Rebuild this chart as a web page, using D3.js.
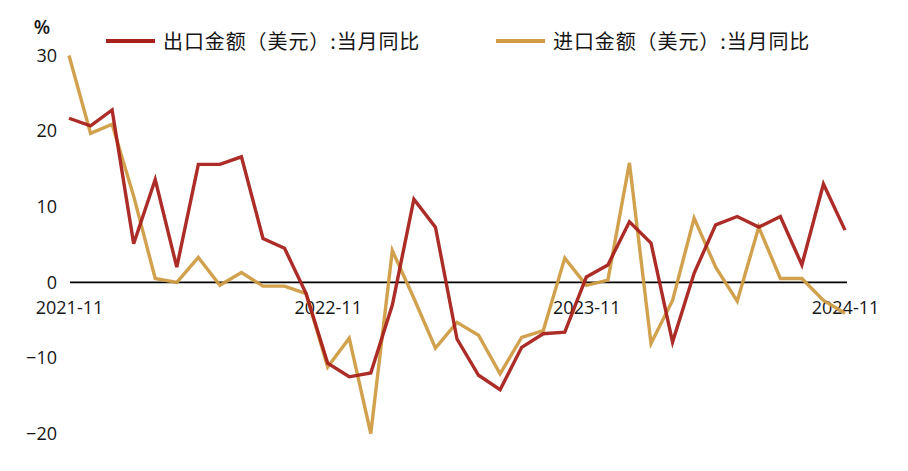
<!DOCTYPE html>
<html><head><meta charset="utf-8">
<script src="https://cdn.jsdelivr.net/npm/d3@7"></script>
<style>html,body{margin:0;padding:0;background:#fff;}svg{display:block;}</style>
</head><body><svg id="chart" width="908" height="471"></svg>
<script>
const months = ["2021-11","2021-12","2022-01","2022-02","2022-03","2022-04","2022-05","2022-06","2022-07","2022-08","2022-09","2022-10",
"2022-11","2022-12","2023-01","2023-02","2023-03","2023-04","2023-05","2023-06","2023-07","2023-08","2023-09","2023-10",
"2023-11","2023-12","2024-01","2024-02","2024-03","2024-04","2024-05","2024-06","2024-07","2024-08","2024-09","2024-10","2024-11"];
const exportYoY = [21.7,20.7,22.8,5.1,13.6,2.0,15.6,15.6,16.6,5.8,4.5,-1.5,-10.7,-12.5,-12.0,-3.0,11.0,7.3,-7.5,-12.3,-14.2,-8.6,-6.8,-6.6,0.7,2.3,8.0,5.2,-7.9,1.2,7.6,8.7,7.3,8.7,2.3,13.0,6.9];
const importYoY = [30.0,19.7,20.9,11.4,0.5,0.0,3.3,-0.4,1.3,-0.5,-0.5,-1.5,-11.2,-7.4,-20.0,4.2,-2.1,-8.7,-5.3,-7.0,-12.1,-7.3,-6.4,3.2,-0.4,0.3,15.8,-8.1,-2.4,8.5,2.0,-2.5,7.3,0.5,0.5,-2.4,-4.1];
const xTickLabels = ["2021-11","2022-11","2023-11","2024-11"];
const yTicks = [-20,-10,0,10,20,30];
const seriesNames = ["出口金额（美元）:当月同比","进口金额（美元）:当月同比"];
const colors = ["#a8211b","#cf9c45"];

const svg = d3.select("#chart");
const x = d3.scalePoint().domain(months).range([69, 845]);
const y = d3.scaleLinear().domain([-20, 30]).range([433.5, 55.5]);
const font = "'Open Sans','Noto Sans',sans-serif";

// y labels
const yAxis = d3.axisLeft(y).tickValues(yTicks).tickSize(0).tickPadding(0).tickFormat(d3.format("d"));
const gy = svg.append("g").attr("transform","translate(57,0)").call(yAxis);
gy.select(".domain").remove();
gy.selectAll("text").attr("font-family", font).attr("font-size", 18).attr("font-weight",500).attr("fill","#151515");
svg.append("text").attr("x",42).attr("y",34).attr("text-anchor","middle")
  .attr("font-family",font).attr("font-size",19).attr("font-weight",600).attr("fill","#151515").text("%");

// zero line
svg.append("line").attr("x1",70).attr("x2",847).attr("y1",y(0)).attr("y2",y(0))
  .attr("stroke","#000").attr("stroke-width",1.8);

// x labels
const xAxis = d3.axisBottom(x).tickValues(xTickLabels).tickSize(0).tickPadding(0);
const gx = svg.append("g").attr("transform",`translate(0,${y(0)+19})`).call(xAxis);
gx.select(".domain").remove();
gx.selectAll("text").attr("font-family", font).attr("font-size", 18).attr("font-weight",500).attr("fill","#151515");

const line = d3.line().x((d,i)=>x(months[i])).y(d=>y(d));
[importYoY, exportYoY].forEach((s,k)=>{
  svg.append("path").datum(s).attr("d",line).attr("fill","none")
    .attr("stroke", k===0?colors[1]:colors[0]).attr("stroke-width",3.4)
    .attr("stroke-linejoin","miter").attr("stroke-opacity",0.95);
});

// legend
const legX = [106, 496];
seriesNames.forEach((n,i)=>{
  const g = svg.append("g").attr("transform",`translate(${legX[i]},41)`);
  g.append("line").attr("x1",0).attr("x2",49).attr("y1",0).attr("y2",0)
    .attr("stroke",colors[i]).attr("stroke-width",4);
  g.append("text").attr("x",57).attr("y",7.5).attr("font-family","'Noto Sans CJK SC',sans-serif")
    .attr("font-size",20).attr("letter-spacing",0.9).attr("fill","#151515").text(n);
});
</script></body></html>
